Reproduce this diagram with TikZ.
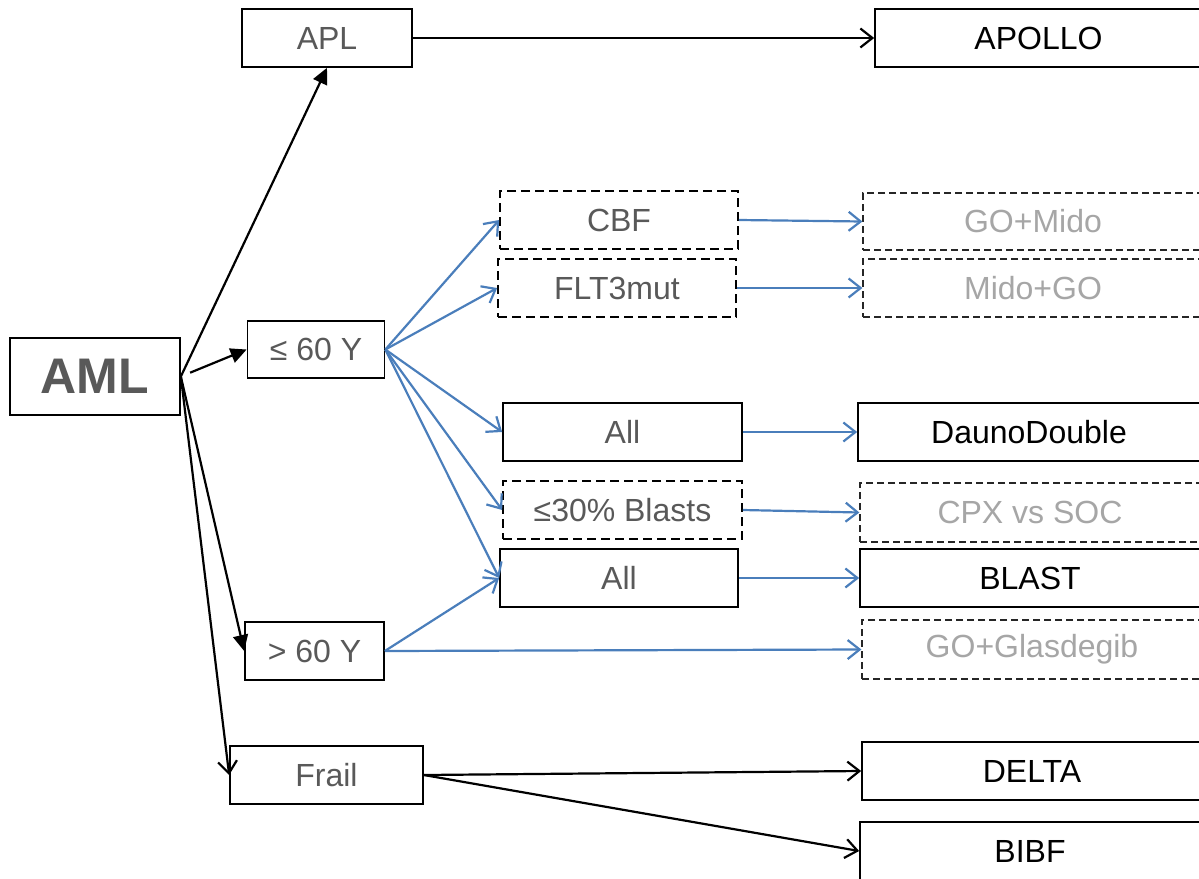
\documentclass[tikz,border=0pt]{standalone}
\usepackage{fontspec}
\setmainfont{Liberation Sans}
\usetikzlibrary{arrows.meta}
\definecolor{linkblue}{HTML}{4A7EBB}
\definecolor{labelgray}{HTML}{595959}
\definecolor{fadedgray}{HTML}{A6A6A6}
\begin{document}
\begin{tikzpicture}[x=1pt,y=-1pt,
  box/.style={draw=black, line width=1.7pt, fill=white, inner sep=0pt,
    text=labelgray, font=\fontsize{32}{37}\selectfont},
  dbox/.style={box, dash pattern=on 9pt off 5pt},
  tbox/.style={box, text=black},
  fbox/.style={box, line width=1.2pt, draw=black!85, dash pattern=on 7pt off 4pt, text=fadedgray},
  blk/.style={draw=black, line width=2.2pt},
  blu/.style={draw=linkblue, line width=2.2pt},
  solidtip/.style={-{Triangle[length=16pt,width=15pt]}},
  opentip/.style={-{Straight Barb[length=12pt,width=19pt,line width=2.2pt]}}
]
\useasboundingbox (0,0) rectangle (1199,878);
\clip (0,0) rectangle (1199,878);

% first column
\node[box, minimum width=170, minimum height=77, font=\fontsize{50}{57}\selectfont\bfseries] (aml) at (95,376.5) {AML};

% second column
\node[box, minimum width=170, minimum height=58] (apl) at (327,38) {APL};
\node[box, minimum width=137, minimum height=57] (le60) at (316,349.5) {≤ 60 Y};
\node[box, minimum width=139, minimum height=58] (gt60) at (314.5,651) {> 60 Y};
\node[box, minimum width=193, minimum height=58] (frail) at (326.5,775) {Frail};

% third column
\node[dbox, minimum width=238, minimum height=58] (cbf) at (619,220) {CBF};
\node[dbox, minimum width=238, minimum height=58] (flt) at (617,288) {FLT3mut};
\node[box, minimum width=239, minimum height=58] (allA) at (622.5,432) {All};
\node[dbox, minimum width=239, minimum height=58] (blasts) at (622.5,510) {≤30\% Blasts};
\node[box, minimum width=238, minimum height=58] (allB) at (619,578) {All};

% fourth column (runs past the right edge)
\node[tbox, minimum width=327, minimum height=58] (apollo) at (1038.5,38) {APOLLO};
\node[fbox, minimum width=340, minimum height=57] (gomido) at (1033,221.5) {GO+Mido};
\node[fbox, minimum width=340, minimum height=58] (midogo) at (1033,288) {Mido+GO};
\node[tbox, minimum width=342, minimum height=58] (dauno) at (1029,432) {DaunoDouble};
\node[fbox, minimum width=340, minimum height=59] (cpx) at (1030,512.5) {CPX vs SOC};
\node[tbox, minimum width=340, minimum height=58] (blast) at (1030,578) {BLAST};
\node[fbox, minimum width=340, minimum height=59] (glas) at (1032,649.5) {GO+Glasdegib};
\node[tbox, minimum width=340, minimum height=58] (delta) at (1032,771) {DELTA};
\node[tbox, minimum width=340, minimum height=58] (bibf) at (1030,851) {BIBF};

% black connectors
\draw[blk, solidtip] (aml.east) -- (apl.south);
\draw[blk, solidtip, shorten <=10pt] (aml.east) -- (le60.west);
\draw[blk, solidtip] (aml.east) -- (gt60.west);
\draw[blk, opentip] (aml.east) -- (frail.west);
\draw[blk, opentip] (apl.east) -- (apollo.west);
\draw[blk, opentip] (frail.east) -- (delta.west);
\draw[blk, opentip] (frail.east) -- (bibf.west);

% blue connectors
\draw[blu, opentip] (le60.east) -- (cbf.west);
\draw[blu, opentip] (le60.east) -- (flt.west);
\draw[blu, opentip] (le60.east) -- (allA.west);
\draw[blu, opentip] (le60.east) -- (blasts.west);
\draw[blu, opentip] (le60.east) -- (allB.west);
\draw[blu, opentip] (gt60.east) -- (allB.west);
\draw[blu, opentip] (gt60.east) -- (glas.west);
\draw[blu, opentip] (cbf.east) -- (gomido.west);
\draw[blu, opentip] (flt.east) -- (midogo.west);
\draw[blu, opentip] (allA.east) -- (dauno.west);
\draw[blu, opentip] (blasts.east) -- (cpx.west);
\draw[blu, opentip] (allB.east) -- (blast.west);
\end{tikzpicture}
\end{document}
